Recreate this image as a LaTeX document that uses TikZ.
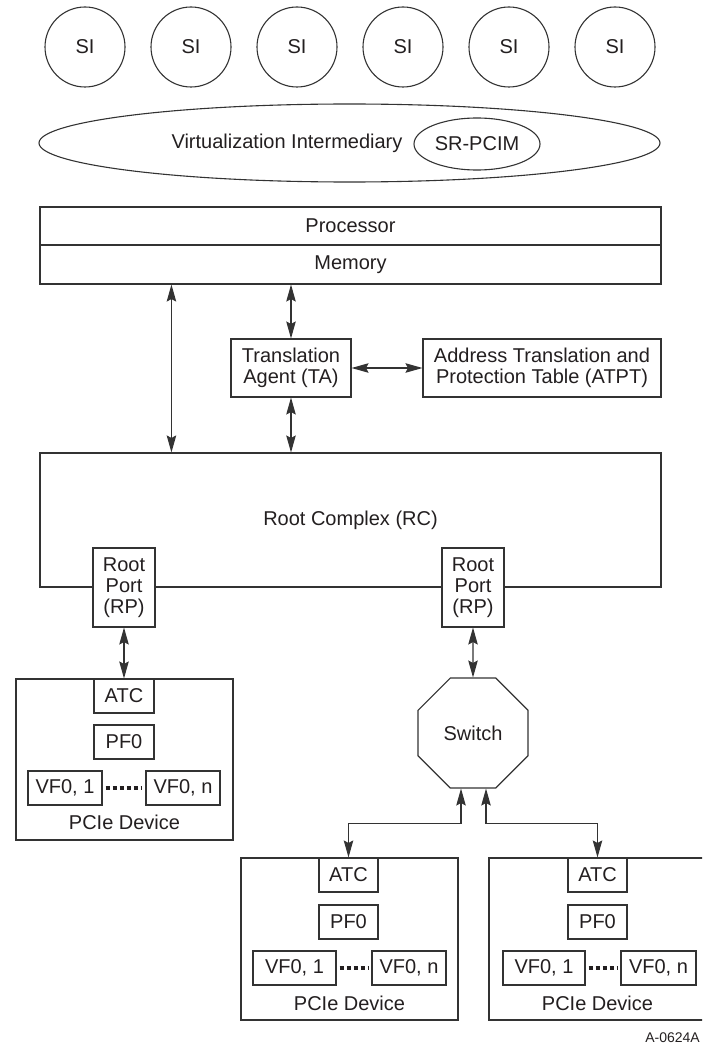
\documentclass[tikz,border=0pt]{standalone}
\usepackage{fontspec}
\setmainfont{Liberation Sans}
\usepackage{tikz}
\usetikzlibrary{calc,arrows.meta}
\usetikzlibrary{shapes.geometric}
\usetikzlibrary{positioning}
\definecolor{sv-line}{HTML}{333333}
\definecolor{sv-text}{HTML}{231F20}

\begin{document}
\begin{tikzpicture}[x=1pt, y=-1pt, >={Stealth[length=17pt, width=9.5pt, inset=2.5pt]},
    every node/.style={font=\fontsize{20}{21}\selectfont, text=sv-text, inner sep=0pt},
    box/.style={draw=sv-line, fill=white, line width=1.1pt, align=center},
    oval/.style={draw=sv-line, line width=1.1pt, ellipse},
    link/.style={sv-line, line width=1.1pt, <->},
    vfdots/.style={sv-text, line width=4pt, dash pattern=on 4.5pt off 2.5pt, shorten <=3pt, shorten >=3pt}]
    \useasboundingbox (0,0) rectangle (702,1051);
    \clip (0,0) rectangle (702,1051);

    % System Images
    \foreach \i in {1,...,6} {
        \node[oval, circle, minimum size=80pt] (si\i) at ({85+106*(\i-1)}, 47) {SI};
    }

    % Virtualization Intermediary with SR-PCIM inside
    \node[oval, minimum width=621pt, minimum height=78pt] (vi) at (349.5, 143) {};
    \node (vitxt) at (287, 143) {Virtualization Intermediary};
    \node[oval, minimum width=126pt, minimum height=52pt] (srpcim) at (477, 144) {SR-PCIM};

    % Processor / Memory
    \node[box, minimum width=621pt, minimum height=38pt] (proc) at (350.5, 226) {Processor};
    \node[box, minimum width=621pt, minimum height=39pt] (mem) at (350.5, 264.5) {Memory};

    % Translation Agent and ATPT
    \node[box, minimum width=120pt, minimum height=58pt] (ta) at (291, 368) {Translation\\Agent (TA)};
    \node[box, minimum width=238pt, minimum height=58pt] (atpt) at (542, 368) {Address Translation and\\Protection Table (ATPT)};

    % Root Complex with its two Root Ports
    \node[box, minimum width=621pt, minimum height=134pt] (rc) at (350.5, 520) {Root Complex (RC)};
    \node[box, minimum width=62pt, minimum height=79pt] (rp1) at (124, 587.5) {Root\\Port\\(RP)};
    \node[box, minimum width=62pt, minimum height=79pt] (rp2) at (473, 587.5) {Root\\Port\\(RP)};

    % Switch
    \node[draw=sv-line, line width=1.1pt, regular polygon, regular polygon sides=8, minimum size=119pt] (sw) at (473, 733) {Switch};

    % PCIe Device 1 (on RP 1)
    \node[box, minimum width=217pt, minimum height=161pt] (dev1) at (124.5, 759.5) {};
    \node[box, minimum width=60pt, minimum height=34pt] (atc1) at (124, 696) {ATC};
    \node[box, minimum width=60pt, minimum height=34pt] (pf1) at (124, 742) {PF0};
    \node[box, minimum width=74pt, minimum height=34pt] (vf1a) at (65, 788) {VF0, 1};
    \node[box, minimum width=74pt, minimum height=34pt] (vf1n) at (183, 788) {VF0, n};
    \node (dev1lbl) at (124.5, 822) {PCIe Device};
    \draw[vfdots] (vf1a) -- (vf1n);

    % PCIe Device 2 (below switch, left)
    \node[box, minimum width=217pt, minimum height=162pt] (dev2) at (349.5, 939) {};
    \node[box, minimum width=59pt, minimum height=34pt] (atc2) at (348.5, 875) {ATC};
    \node[box, minimum width=59pt, minimum height=34pt] (pf2) at (348.5, 922) {PF0};
    \node[box, minimum width=83pt, minimum height=34pt] (vf2a) at (294.5, 968) {VF0, 1};
    \node[box, minimum width=74pt, minimum height=34pt] (vf2n) at (409, 968) {VF0, n};
    \node (dev2lbl) at (349.5, 1003) {PCIe Device};
    \draw[vfdots] (vf2a) -- (vf2n);

    % PCIe Device 3 (below switch, right)
    \node[box, minimum width=217pt, minimum height=162pt] (dev3) at (597.5, 939) {};
    \node[box, minimum width=59pt, minimum height=34pt] (atc3) at (597.5, 875) {ATC};
    \node[box, minimum width=59pt, minimum height=34pt] (pf3) at (597.5, 922) {PF0};
    \node[box, minimum width=82pt, minimum height=34pt] (vf3a) at (544, 968) {VF0, 1};
    \node[box, minimum width=75pt, minimum height=34pt] (vf3n) at (658.5, 968) {VF0, n};
    \node (dev3lbl) at (597.5, 1003) {PCIe Device};
    \draw[vfdots] (vf3a) -- (vf3n);

    % Figure id
    \node[anchor=east, font=\fontsize{14}{16}\selectfont] (figid) at (700, 1038) {A-0624A};

    % Connectors
    \draw[link] ([xshift=132pt]mem.south west) -- ([xshift=132pt]rc.north west);
    \draw[link] (mem.south -| ta.north) -- (ta.north);
    \draw[link] (ta.south) -- (rc.north -| ta.south);
    \draw[link] (ta.east) -- (atpt.west);
    \draw[link] (rp1.south) -- (atc1.north);
    \draw[link] (rp2.south) -- (sw.north);
    \draw[link] ([xshift=-12pt]sw.south) -- ++(0,35) -| (atc2.north);
    \draw[link] ([xshift=13pt]sw.south) -- ++(0,35) -| (atc3.north);

\end{tikzpicture}
\end{document}
